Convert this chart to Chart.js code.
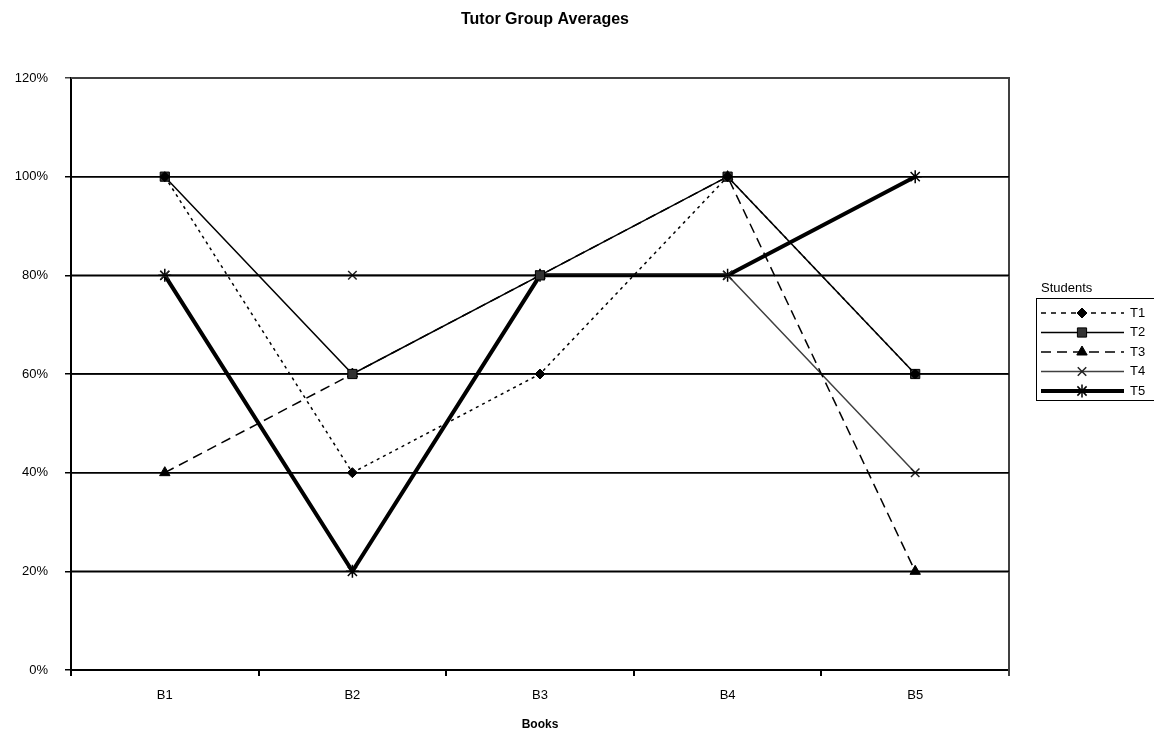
<!DOCTYPE html>
<html>
<head>
<meta charset="utf-8">
<script src="https://cdn.jsdelivr.net/npm/chart.js@4.4.1/dist/chart.umd.min.js"></script>
<style>
html,body{margin:0;padding:0;background:#fff;}
#wrap{width:1154px;height:738px;position:relative;}
</style>
</head>
<body>
<div id="wrap"><canvas id="c" width="1154" height="738"></canvas></div>
<script>
const categories = ['B1','B2','B3','B4','B5'];
const seriesNames = ['T1','T2','T3','T4','T5'];
const T1 = [100, 40, 60, 100, 60];
const T2 = [100, 60, 80, 100, 60];
const T3 = [40, 60, 80, 100, 20];
const T4 = [80, 80, 80, 80, 40];
const T5 = [80, 20, 80, 80, 100];
const yTicks = [0, 20, 40, 60, 80, 100, 120];
const chartTitle = 'Tutor Group Averages';
const xTitle = 'Books';
const legendTitle = 'Students';

const FONT = "'Liberation Sans', Arial, sans-serif";

const styles = [
  {borderColor:'#000', borderWidth:1.5, borderDash:[3,4], pointStyle:'rectRot', pointRadius:5, pointBackgroundColor:'#000', pointBorderColor:'#000', pointBorderWidth:1},
  {borderColor:'#000', borderWidth:1.5, borderDash:[], pointStyle:'rect', pointRadius:6.5, pointBackgroundColor:'#333', pointBorderColor:'#000', pointBorderWidth:1},
  {borderColor:'#000', borderWidth:1.5, borderDash:[10,6], pointStyle:'triangle', pointRadius:6, pointBackgroundColor:'#000', pointBorderColor:'#000', pointBorderWidth:1},
  {borderColor:'#404040', borderWidth:1.5, borderDash:[], pointStyle:'crossRot', pointRadius:6, pointBackgroundColor:'#000', pointBorderColor:'#222', pointBorderWidth:1.5},
  {borderColor:'#000', borderWidth:4, borderDash:[], pointStyle:'star', pointRadius:6.5, pointBackgroundColor:'#000', pointBorderColor:'#000', pointBorderWidth:1.5}
];
const values = [T1, T2, T3, T4, T5];

const datasets = seriesNames.map((n, i) => Object.assign({
  label: n,
  data: values[i],
  fill: false,
  tension: 0,
  pointHoverRadius: styles[i].pointRadius,
  clip: false
}, styles[i]));

function redrawGrid(chart) {
  const {ctx, chartArea: a, scales: {y}} = chart;
  ctx.save();
  ctx.strokeStyle = '#000';
  ctx.lineWidth = 1.5;
  [20, 40, 60, 80, 100].forEach(v => {
    const py = y.getPixelForValue(v);
    ctx.beginPath();
    ctx.moveTo(a.left, py);
    ctx.lineTo(a.right, py);
    ctx.stroke();
  });
  ctx.restore();
}

const extras = {
  id: 'extras',
  beforeDatasetsDraw(chart) {
    const {ctx, chartArea: a} = chart;
    ctx.save();
    ctx.strokeStyle = '#404040';
    ctx.lineWidth = 2;
    ctx.beginPath();
    ctx.moveTo(a.left, a.top);
    ctx.lineTo(a.right, a.top);
    ctx.lineTo(a.right, a.bottom + 6);
    ctx.stroke();
    ctx.restore();
  },
  afterDatasetDraw(chart, args) {
    if (args.index === 3) redrawGrid(chart);
  },
  afterDraw(chart) {
    const {ctx, chartArea: a} = chart;
    ctx.save();
    ctx.fillStyle = '#000';
    ctx.textAlign = 'center';
    ctx.textBaseline = 'middle';
    ctx.font = 'bold 16px ' + FONT;
    ctx.fillText(chartTitle, 545, 20);
    ctx.font = 'bold 12px ' + FONT;
    ctx.fillText(xTitle, (a.left + a.right) / 2, 725);

    const bx = 1036, by = 298, bh = 102;
    ctx.font = '13px ' + FONT;
    ctx.textAlign = 'left';
    ctx.fillText(legendTitle, 1041, 288);
    ctx.strokeStyle = '#000';
    ctx.lineWidth = 1;
    ctx.strokeRect(bx + 0.5, by + 0.5, 200, bh);
    chart.data.datasets.forEach((ds, i) => {
      const y = 313 + i * 19.5;
      ctx.save();
      ctx.strokeStyle = ds.borderColor;
      ctx.lineWidth = ds.borderWidth;
      ctx.setLineDash(i === 0 ? [5, 5] : (ds.borderDash || []));
      ctx.beginPath();
      ctx.moveTo(1041, y);
      ctx.lineTo(1124, y);
      ctx.stroke();
      ctx.setLineDash([]);
      ctx.fillStyle = ds.pointBackgroundColor;
      ctx.strokeStyle = ds.pointBorderColor;
      ctx.lineWidth = ds.pointBorderWidth;
      Chart.helpers.drawPoint(ctx, {pointStyle: ds.pointStyle, radius: ds.pointRadius, rotation: 0, borderWidth: ds.pointBorderWidth}, 1082, y);
      ctx.restore();
      ctx.fillStyle = '#000';
      ctx.font = '13px ' + FONT;
      ctx.textAlign = 'left';
      ctx.fillText(ds.label, 1130, y);
    });
    ctx.restore();
  }
};

new Chart(document.getElementById('c'), {
  type: 'line',
  data: { labels: categories, datasets },
  options: {
    responsive: false,
    animation: false,
    devicePixelRatio: 1,
    layout: { padding: { top: 78, right: 145, left: 0, bottom: 0 } },
    plugins: { legend: { display: false }, title: { display: false }, tooltip: { enabled: false } },
    scales: {
      x: {
        offset: true,
        afterFit(s) { s.height = 68; },
        grid: { offset: true, drawOnChartArea: false, drawTicks: true, tickLength: 6, color: '#000', lineWidth: 2 },
        border: { color: '#000', width: 2 },
        ticks: { color: '#000', padding: 12, font: { family: FONT, size: 13 }, maxRotation: 0 }
      },
      y: {
        min: 0, max: 120,
        afterFit(s) { s.width = 71; },
        afterBuildTicks(s) { s.ticks = yTicks.map(v => ({ value: v })); },
        grid: {
          color: c => (c.tick && c.tick.value === 120) ? '#404040' : '#000',
          lineWidth: 1.5,
          tickLength: 6
        },
        border: { color: '#000', width: 2 },
        ticks: { color: '#000', padding: 17, font: { family: FONT, size: 13 }, callback: v => v + '%' }
      }
    }
  },
  plugins: [extras]
});
</script>
</body>
</html>
